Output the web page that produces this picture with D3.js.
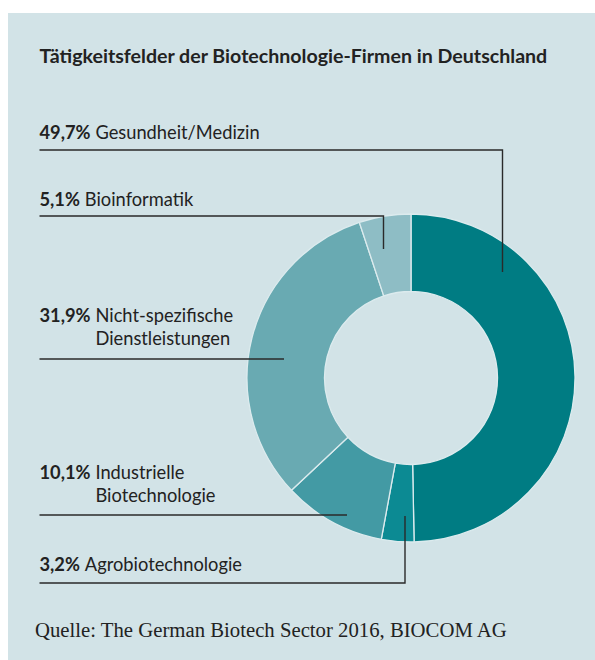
<!DOCTYPE html>
<html>
<head>
<meta charset="utf-8">
<script src="https://cdn.jsdelivr.net/npm/d3@7"></script>
<style>
  html, body { margin: 0; padding: 0; background: #ffffff; }
  svg { display: block; }
</style>
</head>
<body>
<svg id="chart" width="595" height="660"></svg>
<script>
// ---- data ----
const title = "Tätigkeitsfelder der Biotechnologie-Firmen in Deutschland";
const source = "Quelle: The German Biotech Sector 2016, BIOCOM AG";
const categories = ["Gesundheit/Medizin", "Agrobiotechnologie", "Industrielle Biotechnologie", "Nicht-spezifische Dienstleistungen", "Bioinformatik"];
const labelLines = [["Gesundheit/Medizin"], ["Agrobiotechnologie"], ["Industrielle", "Biotechnologie"], ["Nicht-spezifische", "Dienstleistungen"], ["Bioinformatik"]];
const shares = [49.7, 3.2, 10.1, 31.9, 5.1];
const colors = ["#007c83", "#0c8a93", "#439aa4", "#69aab2", "#8ebdc5"];

// ---- layout ----
const W = 595, H = 660;
const cx = 411, cy = 378, rOuter = 164, rInner = 86.5;
const textX = 39.5;
const lineX0 = 39.5;
// per category: baseline of last label line, leader line y, leader end (x,y)
const leaders = [
  {base: 139, ly: 150, ex: 502.5, ey: 272},
  {base: 571, ly: 583, ex: 405, ey: 516},
  {base: 502, ly: 515, ex: 347, ey: 515},
  {base: 345, ly: 359, ex: 284, ey: 359},
  {base: 206, ly: 216, ex: 383.5, ey: 249}
];
const lineGap = 23;

const svg = d3.select("#chart");
svg.append("rect").attr("x", 8).attr("y", 13).attr("width", W - 8).attr("height", H - 13).attr("fill", "#d2e3e7");

const fmt = d3.formatLocale({decimal: ",", thousands: ".", grouping: [3], currency: ["", "€"]}).format(".1f");

function fitText(sel, targetWidth) {
  const s0 = parseFloat(sel.attr("font-size"));
  const L = sel.node().getComputedTextLength();
  sel.attr("font-size", (s0 * targetWidth / L).toFixed(2));
}

// title
const t = svg.append("text").attr("x", textX).attr("y", 63)
  .attr("font-family", "Lato, 'Noto Sans', sans-serif").attr("font-weight", 700)
  .attr("font-size", 17).attr("fill", "#222").text(title);
fitText(t, 508);

// donut
const pie = d3.pie().sort(null).value(d => d);
const arcs = pie(shares);
const arc = d3.arc().innerRadius(rInner).outerRadius(rOuter);
svg.append("g").attr("transform", `translate(${cx},${cy})`)
  .selectAll("path").data(arcs).join("path")
  .attr("d", arc).attr("fill", (d, i) => colors[i])
  .attr("stroke", "#dcebee").attr("stroke-width", 1.3);

// determine label font size from reference width of first label
const labelFont = "Lato, 'Noto Sans', sans-serif";
const probe = svg.append("text").attr("font-family", labelFont).attr("font-size", 17);
probe.append("tspan").attr("font-weight", 700).text(fmt(shares[0]) + "%");
probe.append("tspan").text(" " + labelLines[0][0]);
fitText(probe, 220);
const labelSize = +probe.attr("font-size");
probe.remove();

// labels and leaders
categories.forEach((c, i) => {
  const L = leaders[i];
  const lines = labelLines[i];
  const firstBase = L.base - (lines.length - 1) * lineGap;
  const g = svg.append("g");
  const pct = g.append("text").attr("x", textX).attr("y", firstBase)
    .attr("font-family", labelFont).attr("font-size", labelSize).attr("font-weight", 700)
    .attr("fill", "#222").text(fmt(shares[i]) + "%");
  const pw = pct.node().getComputedTextLength();
  const nameX = textX + pw + labelSize * 0.27;
  lines.forEach((ln, j) => {
    g.append("text").attr("x", nameX).attr("y", firstBase + j * lineGap)
      .attr("font-family", labelFont).attr("font-size", labelSize)
      .attr("fill", "#222").text(ln);
  });
  const pts = L.ey === L.ly ? [[lineX0, L.ly], [L.ex, L.ly]] : [[lineX0, L.ly], [L.ex, L.ly], [L.ex, L.ey]];
  g.append("path").attr("d", d3.line()(pts)).attr("fill", "none")
    .attr("stroke", "#2a2a2a").attr("stroke-width", 1.4);
});

// source
const s = svg.append("text").attr("x", 35).attr("y", 637)
  .attr("font-family", "'Liberation Serif', 'DejaVu Serif', serif")
  .attr("font-size", 20).attr("fill", "#222").text(source);
fitText(s, 472);
</script>
</body>
</html>
